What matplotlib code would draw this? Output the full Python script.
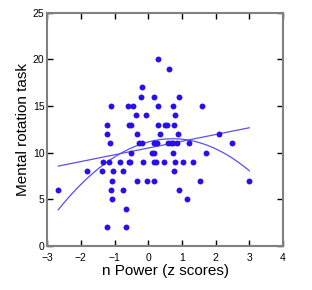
import numpy as np
from matplotlib import pyplot as plt

# n Power z scores and mental rotation scores
power = [0.29, 0.61, -0.19,
         -0.21, 0.18, 0.92,
         -1.11, -0.60, -0.44, 0.28, 0.75, 1.60,
         -0.37, -0.07, 0.80,
         -1.23, -0.58, -0.52, 0.29, 0.50, 0.56, 0.78,
         -1.23, -0.34, 0.36, 0.87, 2.09,
         -1.13, -0.26, -0.19, 0.16, 0.26, 0.60, 0.67, 0.73, 0.85, 1.20, 2.49,
         -0.51, 0.10, 0.18, 0.75, 1.73,
         -1.35, -1.15, -0.85, -0.58, -0.53, -0.14, 0.18, 0.24, 0.46, 0.80, 1.03, 1.33,
         -1.82, -1.38, -1.03, -0.75, 0.77,
         -1.06, -0.34, -0.04, 0.16, 1.55, 3.00,
         -2.67, -1.11, -0.75, 0.92,
         -1.08, 1.15,
         -0.66,
         -1.21, -0.66]
rotation = [20, 19, 17,
            16, 16, 16,
            15, 15, 15, 15, 15, 15,
            14, 14, 14,
            13, 13, 13, 13, 13, 13, 13,
            12, 12, 12, 12, 12,
            11, 11, 11, 11, 11, 11, 11, 11, 11, 11, 11,
            10, 10, 10, 10, 10,
            9, 9, 9, 9, 9, 9, 9, 9, 9, 9, 9, 9,
            8, 8, 8, 8, 8,
            7, 7, 7, 7, 7, 7,
            6, 6, 6, 6,
            5, 5,
            4,
            2, 2]

x = np.array(power)
y = np.array(rotation)

plt.rcParams['font.family'] = ['Liberation Sans', 'DejaVu Sans']
fig = plt.figure(figsize=(3.12, 2.9), dpi=100)
ax = fig.add_axes([0.151, 0.152, 0.756, 0.804])

ax.scatter(x, y, s=18, color='#2a10e8', zorder=3, linewidths=0)

# linear and quadratic fits
xs = np.linspace(x.min(), x.max(), 200)
lin = np.polyfit(x, y, 1)
quad = np.polyfit(x, y, 2)
ax.plot(xs, np.polyval(lin, xs), color='#5a50f0', lw=0.9)
ax.plot(xs, np.polyval(quad, xs), color='#5a50f0', lw=0.9)

ax.set_xlim(-3, 4)
ax.set_ylim(0, 25)
ax.set_xticks(range(-3, 5))
ax.set_yticks(range(0, 26, 5))
ax.tick_params(direction='in', top=True, right=True, length=4, width=1,
               labelsize=7.5, colors='black')
ax.tick_params(axis='x', pad=5)
ax.tick_params(axis='y', pad=2)
for s in ax.spines.values():
    s.set_color('#808080')
    s.set_linewidth(1.5)

ax.set_xlabel('n Power (z scores)', fontsize=11, labelpad=1)
ax.set_ylabel('Mental rotation task', fontsize=11, labelpad=2)

plt.savefig('out.png', dpi=100)
